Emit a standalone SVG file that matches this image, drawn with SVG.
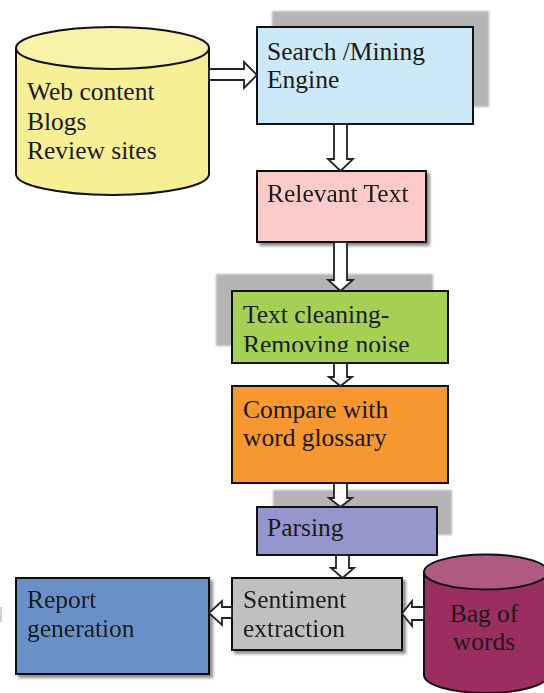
<svg xmlns="http://www.w3.org/2000/svg" width="544" height="693" viewBox="0 0 544 693">
  <style>
    .lbl { font-family: "Liberation Serif", "DejaVu Serif", serif; font-size: 25.5px; fill: #1a1a1a; }
    .box { stroke: #111; stroke-width: 2; }
    .back { fill: #b4b4b4; filter: url(#soft); }
    .arrow { fill: #fff; stroke: #222; stroke-width: 1.8; stroke-linejoin: miter; }
  </style>
  <defs>
    <filter id="soft" x="-10%" y="-10%" width="120%" height="120%">
      <feGaussianBlur stdDeviation="1.2"/>
    </filter>
    <filter id="drop" x="-10%" y="-10%" width="125%" height="130%">
      <feGaussianBlur in="SourceAlpha" stdDeviation="1.8"/>
      <feOffset dx="3" dy="3" result="b"/>
      <feComponentTransfer><feFuncA type="linear" slope="0.45"/></feComponentTransfer>
      <feMerge><feMergeNode/><feMergeNode in="SourceGraphic"/></feMerge>
    </filter>
    <clipPath id="cleanClip"><rect x="232" y="291" width="216" height="61"/></clipPath>
  </defs>

  <rect width="544" height="693" fill="#fff"/>
  <rect x="0" y="607" width="2" height="15" fill="#cfcfcf"/>

  <!-- data source cylinder -->
  <g id="web-content">
    <path d="M16,48 V174 A96.5,21 0 0 0 209,174 V48" fill="#f6ef96" class="box"/>
    <ellipse cx="112.5" cy="48" rx="96.5" ry="21" fill="#f8f3a8" class="box"/>
    <text class="lbl" x="27" y="100">Web content</text>
    <text class="lbl" x="27" y="130">Blogs</text>
    <text class="lbl" x="27" y="159">Review sites</text>
  </g>

  <g id="search-engine">
    <rect class="back" x="272" y="11" width="217" height="96"/>
    <rect class="box" x="257" y="27" width="216" height="97" fill="#cde9f7"/>
    <text class="lbl" x="267" y="60">Search /Mining</text>
    <text class="lbl" x="267" y="88">Engine</text>
  </g>

  <g id="relevant-text" filter="url(#drop)">
    <rect class="box" x="257" y="171" width="169" height="71" fill="#fbcaca"/>
    <text class="lbl" x="267" y="202">Relevant Text</text>
  </g>

  <g id="text-cleaning">
    <rect class="back" x="216" y="274" width="217" height="72"/>
    <rect class="box" x="232" y="291" width="216" height="72" fill="#a6d053"/>
    <g clip-path="url(#cleanClip)">
      <text class="lbl" x="243" y="323">Text cleaning-</text>
      <text class="lbl" x="243" y="353">Removing noise</text>
    </g>
  </g>

  <g id="compare-glossary">
    <rect class="box" x="232" y="386" width="216" height="97" fill="#f7972f"/>
    <text class="lbl" x="243" y="418">Compare with</text>
    <text class="lbl" x="243" y="446">word glossary</text>
  </g>

  <g id="parsing">
    <rect class="back" x="273" y="490" width="179" height="45"/>
    <rect class="box" x="257" y="507" width="180" height="48" fill="#9597cc"/>
    <text class="lbl" x="267" y="536">Parsing</text>
  </g>

  <g id="sentiment-extraction" filter="url(#drop)">
    <rect class="box" x="232" y="578" width="170" height="72" fill="#c0c0c0"/>
    <text class="lbl" x="243" y="608">Sentiment</text>
    <text class="lbl" x="243" y="637">extraction</text>
  </g>

  <g id="report-generation" filter="url(#drop)">
    <rect class="box" x="16" y="578" width="193" height="96" fill="#6b8fc9"/>
    <text class="lbl" x="27" y="608">Report</text>
    <text class="lbl" x="27" y="637">generation</text>
  </g>

  <!-- lexicon cylinder, running off the right edge -->
  <g id="bag-of-words">
    <path d="M424,572 V675 A62,18 0 0 0 548,675 V572" fill="#9c2d60" class="box"/>
    <ellipse cx="486" cy="572" rx="62" ry="17.5" fill="#b05a83" class="box"/>
    <text class="lbl" x="484" y="622" text-anchor="middle">Bag of</text>
    <text class="lbl" x="484" y="650" text-anchor="middle">words</text>
  </g>

  <!-- block arrows -->
  <g id="connectors">
    <polygon class="arrow" points="209,69 244,69 244,62 257,75 244,88 244,80 209,80"/>
    <polygon class="arrow" points="334,124 347,124 347,159 353,159 340.5,171 328,159 334,159"/>
    <polygon class="arrow" points="334,242 347,242 347,280 353,280 340.5,291 328,280 334,280"/>
    <polygon class="arrow" points="334,363 347,363 347,377 352,377 340.5,386 329,377 334,377"/>
    <polygon class="arrow" points="334,483 347,483 347,498 352,498 340.5,507 329,498 334,498"/>
    <polygon class="arrow" points="336,555 349,555 349,568 354,568 342.5,578 331,568 336,568"/>
    <polygon class="arrow" points="424,607 412,607 412,601 402,613.5 412,626 412,620 424,620"/>
    <polygon class="arrow" points="232,607 222,607 222,601 209,613 222,625 222,618 232,618"/>
  </g>
</svg>
